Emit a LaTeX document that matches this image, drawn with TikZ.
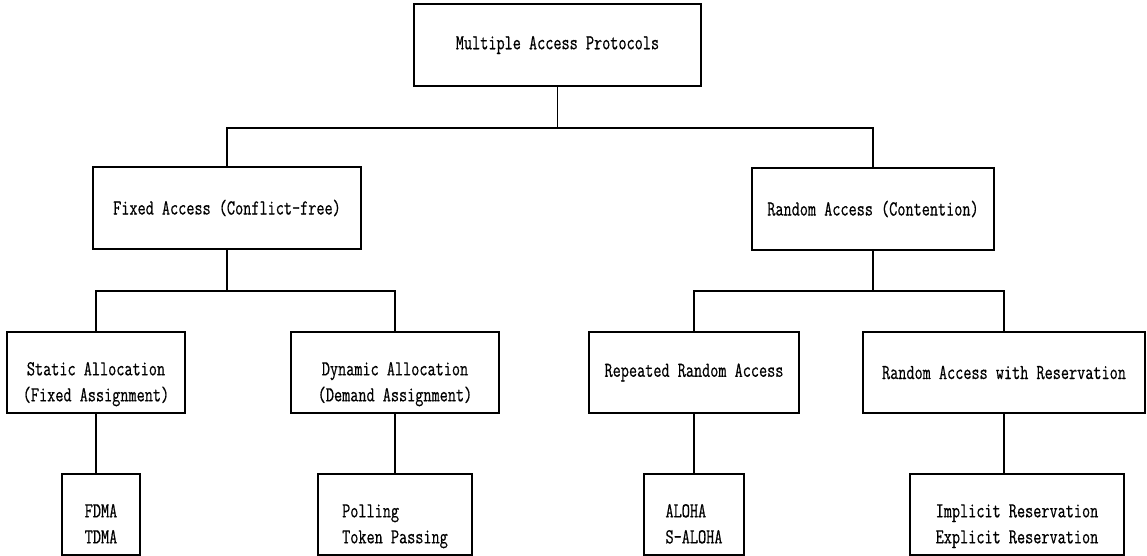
\documentclass[tikz,border=0pt]{standalone}
\usepackage{fontspec}
\setmonofont[FakeStretch=0.74,FakeBold=0.6]{Latin Modern Mono}
\usetikzlibrary{positioning}

% two lines, set a little below the middle of the box
\newcommand{\lowtext}[2][c]{%
  \raisebox{-8pt}[\height][\depth]{\begin{tabular}{@{}#1@{}}#2\end{tabular}}}

\begin{document}
\begin{tikzpicture}[
    x=0.75pt, y=-0.75pt,
    font=\ttfamily\fontsize{16}{19.5}\selectfont,
    box/.style={
        rectangle,
        draw=black,
        line width=1.6pt,
        align=center,
        inner sep=0pt,
        minimum height=61pt
    },
    link/.style={
        line width=1pt,
        black
    }
]
\useasboundingbox (0,0) rectangle (1147,556);

% TOP LEVEL
\node[box, minimum width=215pt] (mac) at (557.5,45)
{Multiple Access Protocols};

% SECOND LEVEL
\node[box, minimum width=201pt] (fixed) at (227,208)
{Fixed Access (Conflict-free)};

\node[box, minimum width=181.5pt] (random) at (873,209)
{Random Access (Contention)};

% THIRD LEVEL
\node[box, minimum width=133.5pt] (static) at (96,372.5)
{\lowtext{Static Allocation\\(Fixed Assignment)}};

\node[box, minimum width=156pt] (dynamic) at (395,372.5)
{\lowtext{Dynamic Allocation\\(Demand Assignment)}};

\node[box, minimum width=157.5pt] (repeated) at (694,372.5)
{Repeated Random Access};

\node[box, minimum width=211.5pt] (rwr) at (1004,372.5)
{Random Access with Reservation};

% BOTTOM LEVEL
\node[box, minimum width=58.5pt] (fdma) at (101,514.5)
{\lowtext{FDMA\\TDMA}};

\node[box, minimum width=116pt] (polling) at (395,514.5)
{\lowtext[l]{Polling\\Token Passing}};

\node[box, minimum width=75pt] (aloha) at (694,514.5)
{\lowtext[l]{ALOHA\\S-ALOHA}};

\node[box, minimum width=160.5pt] (implicit) at (1017,514.5)
{\lowtext{Implicit Reservation\\Explicit Reservation}};

% BARS
\coordinate (topbar) at (557.5,128);
\coordinate (fixbar) at (227,291);
\coordinate (randbar) at (873,291);

% CONNECTORS
\draw[link] (mac) -- (topbar);
\draw[link] (fixed) |- (topbar) -| (random);

\draw[link] (fixed) -- (fixbar);
\draw[link] (static) |- (fixbar) -| (dynamic);

\draw[link] (random) -- (randbar);
\draw[link] (repeated) |- (randbar) -| (rwr);

\draw[link] (static) -- (static |- fdma.north);
\draw[link] (dynamic) -- (polling);
\draw[link] (repeated) -- (aloha);
\draw[link] (rwr) -- (rwr |- implicit.north);

\end{tikzpicture}
\end{document}
